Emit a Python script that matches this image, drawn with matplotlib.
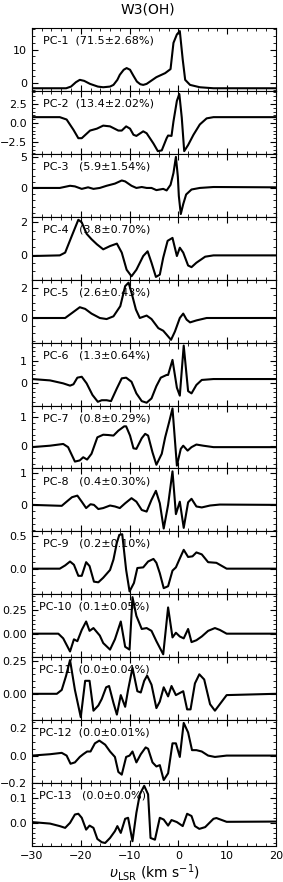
import matplotlib
matplotlib.use("Agg")
import matplotlib.pyplot as plt
from matplotlib.ticker import AutoMinorLocator, MultipleLocator

# Componentes principales de W3(OH)
Vel_1 = [-30, -23.0, -22.0, -21.0, -20.2, -19.3, -18.1, -16.5, -15.4, -14.0, -13.3, -12.5, -12.0, -11.2, -10.6,
         -9.9, -9.2, -8.5, -7.8, -7.2, -6.5, -5.8, -4.5, -2.7, -1.6, -1.0, -0.3, 0.3, 0.9, 1.4, 2.4, 4.4, 7.2, 20]
Amp_1 = [-1.5, -1.5, -1.0, 0.3, 1.0, 0.7, -0.2, -1.0, -1.2, -1.0, -0.5, 1.0, 2.5, 4.0, 4.5,
         4.0, 2.2, 0.5, -0.3, -0.5, -0.2, 0.5, 1.8, 3.0, 4.2, 12.0, 14.5, 15.5, 7.0, 1.0, -0.5, -1.2, -1.5, -1.5]

Vel_2 = [-30, -24.3, -22.9, -21.5, -20.5, -19.8, -18.1, -16.7, -15.4, -14.0, -12.3, -11.6, -10.7, -9.9, -9.2,
         -8.6, -7.2, -6.5, -5.1, -4.2, -3.4, -2.4, -2.1, -1.4, -1.0, -0.3, 0.2, 0.7, 1.2, 2.0, 3.1, 4.4, 5.8, 7.2, 20]
Amp_2 = [0.76, 0.76, 0.45, -0.9, -2.0, -2.0, -1.0, -0.75, -0.35, -0.45, -1.0, -1.0, -0.45, -0.75, -1.55,
         -1.7, -1.1, -1.35, -2.7, -3.7, -3.6, -2.0, -1.65, -1.7, 0.2, 2.9, 3.8, 0.7, -3.7, -2.9, -1.55, -0.2, 0.6, 0.76, 0.76]

Vel_3 = [-30, -24.3, -22.2, -21.2, -19.8, -18.5, -17.4, -16.1, -14.7, -13.0, -11.6, -10.9, -9.6, -8.6, -7.5,
         -6.5, -5.5, -4.5, -3.1, -2.4, -1.6, -1.0, -0.5, -0.1, 0.1, 0.5, 1.0, 1.6, 2.7, 4.4, 7.2, 20]
Amp_3 = [0.0, 0.0, 0.35, 0.25, -0.15, 0.1, -0.15, 0.0, 0.35, 0.7, 1.2, 1.05, 0.35, 0.0, 0.15,
         0.0, 0.0, -0.35, -0.15, -0.4, 0.5, 2.4, 5.0, 1.8, -1.3, -4.2, -2.6, -1.05, -0.25, 0.0, 0.15, 0.1]

Vel_4 = [-30, -24.3, -23.2, -21.8, -20.5, -19.8, -18.8, -17.8, -16.7, -15.4, -14.0, -12.6, -11.6, -10.6, -9.6,
         -8.6, -7.2, -6.3, -5.5, -4.6, -3.8, -3.1, -2.2, -1.2, -0.3, 0.3, 1.0, 2.0, 2.7, 3.7, 5.5, 7.2, 20]
Amp_4 = [-0.06, -0.02, 0.15, 1.2, 2.16, 2.0, 1.3, 0.97, 0.66, 0.35, 0.55, 0.7, 0.15, -0.9, -1.3,
         -0.9, -0.06, 0.23, -0.47, -1.34, -1.2, -0.16, 0.87, 1.05, -0.06, 0.45, 0.15, -0.64, -0.74, -0.47, -0.1, -0.02, -0.02]

Vel_5 = [-30, -23.2, -21.8, -20.2, -19.1, -17.8, -16.1, -14.7, -13.3, -11.9, -10.9, -10.2, -9.6, -8.7, -7.9,
         -6.5, -5.5, -4.1, -3.1, -2.4, -1.5, -0.7, 0.3, 1.0, 1.7, 2.4, 3.7, 5.8, 20]
Amp_5 = [0.0, 0.0, 0.33, 0.71, 0.6, 0.29, 0.0, -0.07, 0.11, 0.78, 2.1, 2.33, 1.67, 0.56, 0.0,
         0.16, -0.07, -0.67, -0.84, -1.1, -1.44, -0.89, 0.0, 0.29, -0.11, -0.29, -0.16, 0.0, 0.0]

Vel_6 = [-30, -26.3, -23.6, -22.2, -21.5, -20.7, -19.8, -18.8, -17.6, -16.5, -15.7, -14.7, -13.8, -12.6, -11.6,
         -10.7, -9.6, -8.6, -7.5, -6.5, -5.5, -4.5, -3.6, -2.4, -2.1, -1.2, -0.3, 0.3, 1.1, 2.0, 2.7, 3.7, 4.8, 7.2, 20]
Amp_6 = [0.19, 0.13, 0.0, -0.1, -0.04, 0.25, 0.29, 0.0, -0.51, -0.81, -0.74, -0.74, -0.78, -0.22, 0.22,
         0.25, 0.07, -0.44, -0.78, -0.85, -0.66, -0.12, 0.25, 0.37, 0.37, 1.03, -0.19, -0.54, 1.66, -0.34, -0.44, -0.07, 0.15, 0.19, 0.19]

Vel_7 = [-30, -26.3, -23.6, -22.6, -21.2, -20.2, -19.5, -18.7, -17.8, -16.6, -15.4, -14.4, -13.3, -12.3, -11.1,
         -10.7, -9.9, -9.2, -8.6, -7.5, -6.8, -6.2, -5.3, -4.5, -3.4, -2.7, -1.9, -1.2, -0.3, 0.5, 1.0, 1.9, 2.7,
         3.7, 5.1, 7.2, 20]
Amp_7 = [-0.03, 0.02, 0.08, -0.03, -0.53, -0.49, -0.38, -0.46, -0.26, 0.31, 0.4, 0.39, 0.37, 0.54, 0.69,
         0.69, 0.37, -0.07, -0.09, 0.28, 0.43, 0.37, -0.21, -0.64, -0.26, 0.31, 0.83, 1.31, -0.67, -0.09, 0.02, -0.15, -0.03,
         0.06, 0.02, -0.03, -0.03]

Vel_8 = [-30, -23.9, -22.9, -21.8, -20.7, -19.8, -18.9, -18.0, -17.3, -16.4, -15.4, -14.0, -13.0, -12.0, -10.9,
         -9.6, -8.6, -7.5, -6.5, -5.5, -4.6, -3.8, -3.0, -2.1, -1.2, -0.5, 0.3, 1.1, 2.0, 2.7, 3.7, 4.8, 6.5, 8.5, 20]
Amp_8 = [0.0, -0.03, 0.1, 0.24, 0.29, 0.1, -0.1, 0.02, 0.0, -0.13, -0.1, -0.02, -0.05, -0.1, 0.05,
         0.21, 0.1, -0.16, -0.21, 0.16, 0.44, 0.05, -0.74, 0.0, 1.05, -0.29, 0.1, -0.72, 0.08, 0.19, -0.05, -0.08, -0.02, 0.01, 0.0]

Vel_9 = [-30, -24.3, -23.2, -22.2, -21.4, -20.5, -19.8, -18.9, -18.2, -17.3, -16.4, -15.4, -14.0, -13.3, -12.6,
         -12.1, -11.5, -10.7, -10.0, -9.1, -8.4, -7.2, -6.2, -5.1, -4.5, -3.8, -3.0, -2.1, -1.2, -0.5, 0.2, 1.1,
         2.0, 2.9, 3.7, 4.8, 6.1, 7.8, 9.9, 20]
Amp_9 = [0.0, 0.0, 0.05, 0.11, 0.06, -0.11, -0.11, 0.1, 0.04, -0.2, -0.21, -0.14, -0.02, 0.14, 0.4,
         0.52, 0.53, -0.02, -0.35, -0.22, 0.01, 0.02, 0.11, 0.15, 0.09, -0.07, -0.3, -0.27, -0.03, 0.02, 0.14, 0.29,
         0.18, 0.19, 0.25, 0.22, 0.1, 0.09, 0.0, 0.0]

Vel_10 = [-30, -24.6, -23.6, -22.2, -21.4, -20.7, -19.8, -18.9, -18.2, -17.4, -16.1, -15.4, -14.0, -13.0, -11.8,
          -10.9, -10.0, -9.4, -8.6, -7.5, -6.5, -5.5, -4.5, -3.1, -2.1, -1.2, -0.5, 0.3, 1.1, 2.0, 2.7, 3.7, 4.8,
          6.1, 7.5, 8.5, 9.9, 20]
Amp_10 = [0.0, 0.0, -0.05, -0.19, -0.06, -0.08, 0.04, 0.13, 0.03, 0.06, -0.02, -0.1, -0.17, -0.06, 0.13,
          -0.14, -0.17, 0.39, 0.19, 0.05, 0.06, 0.03, -0.08, -0.22, 0.28, -0.04, 0.01, -0.03, -0.05, 0.05, -0.09, -0.07, -0.03,
          0.03, 0.06, 0.04, 0.0, 0.0]

Vel_11 = [-30, -24.9, -23.9, -23.0, -22.2, -21.2, -20.0, -19.1, -18.2, -17.4, -16.4, -15.7, -14.8, -14.2, -13.3,
          -12.6, -11.8, -10.9, -10.3, -9.4, -8.4, -7.7, -7.0, -6.4, -5.5, -4.5, -3.8, -3.0, -2.1, -1.4, -0.5, 1.0,
          1.8, 2.5, 3.4, 4.3, 5.3, 6.5, 7.5, 8.9, 9.9, 20]
Amp_11 = [0.0, 0.0, 0.03, 0.14, 0.26, 0.03, -0.18, 0.1, 0.1, -0.13, -0.09, -0.04, 0.05, 0.06, -0.07,
          -0.16, -0.01, -0.1, 0.03, 0.2, 0.02, 0.01, 0.1, 0.14, 0.07, -0.11, -0.06, 0.05, -0.02, 0.06, -0.01, 0.02,
          -0.12, -0.12, 0.08, 0.15, 0.11, -0.08, -0.13, -0.06, -0.01, 0.0]

Vel_12 = [-30, -26.3, -23.9, -22.9, -22.1, -21.2, -20.2, -19.5, -18.7, -18.0, -17.1, -16.2, -15.0, -14.0, -13.0,
          -12.3, -11.6, -10.7, -10.0, -9.4, -8.6, -7.7, -6.7, -6.2, -5.3, -4.5, -3.8, -3.0, -2.1, -1.2, -0.5, 0.3,
          1.1, 2.0, 2.8, 3.7, 4.8, 6.1, 7.5, 9.9, 20]
Amp_12 = [0.0, 0.01, 0.02, 0.0, -0.06, -0.05, -0.01, 0.01, 0.03, 0.03, 0.09, 0.11, 0.08, 0.03, -0.01,
          -0.12, -0.14, -0.01, 0.0, 0.03, -0.05, 0.01, 0.06, 0.05, -0.05, -0.08, -0.07, -0.18, -0.13, 0.09, 0.09, -0.01,
          0.24, 0.17, 0.04, 0.04, 0.03, 0.0, -0.01, 0.0, 0.0]

Vel_13 = [-30, -26.3, -24.3, -23.2, -22.2, -21.2, -20.5, -19.8, -18.9, -18.2, -17.4, -16.6, -15.7, -15.0, -14.0,
          -13.0, -12.5, -11.8, -10.9, -10.3, -9.4, -8.6, -7.9, -7.0, -6.2, -5.7, -4.8, -3.8, -3.0, -2.1, -1.4, -0.3,
          0.9, 1.8, 2.7, 3.4, 4.3, 5.5, 7.2, 7.8, 9.9, 20]
Amp_13 = [0.003, -0.003, -0.013, -0.02, 0.0, 0.033, 0.036, 0.02, -0.027, -0.011, -0.02, -0.064, -0.077, -0.08, -0.06,
          -0.033, -0.013, -0.04, 0.016, 0.02, -0.073, 0.04, 0.113, 0.147, 0.113, -0.06, -0.067, 0.02, 0.013, -0.011, 0.011, 0.003,
          -0.013, 0.036, 0.027, -0.013, -0.024, -0.017, 0.016, 0.019, 0.004, 0.005]

Velocidades = [Vel_1, Vel_2, Vel_3, Vel_4, Vel_5, Vel_6, Vel_7, Vel_8, Vel_9, Vel_10, Vel_11, Vel_12, Vel_13]
Amplitudes = [Amp_1, Amp_2, Amp_3, Amp_4, Amp_5, Amp_6, Amp_7, Amp_8, Amp_9, Amp_10, Amp_11, Amp_12, Amp_13]

Etiquetas = ["PC-1  (71.5\u00b12.68%)", "PC-2  (13.4\u00b12.02%)", "PC-3   (5.9\u00b11.54%)",
             "PC-4   (3.8\u00b10.70%)", "PC-5   (2.6\u00b10.43%)", "PC-6   (1.3\u00b10.64%)",
             "PC-7   (0.8\u00b10.29%)", "PC-8   (0.4\u00b10.30%)", "PC-9   (0.2\u00b10.10%)",
             "PC-10  (0.1\u00b10.05%)", "PC-11  (0.0\u00b10.04%)", "PC-12  (0.0\u00b10.01%)",
             "PC-13   (0.0\u00b10.0%)"]

Ticks_y = [[0, 10], [-2.5, 0.0, 2.5], [0, 5], [0, 2], [0, 2], [0, 1], [0, 1], [0, 1],
           [0.0, 0.5], [0.0, 0.25], [0.0, 0.25], [-0.2, 0.0, 0.2], [0.0, 0.1]]

Titulo = "W3(OH)"

fig, axs = plt.subplots(13, 1, figsize=(2.83, 8.82), dpi=100, sharex=True)
fig.subplots_adjust(left=0.113, right=0.975, top=0.968, bottom=0.041, hspace=0)

for i, ax in enumerate(axs):
    ax.plot(Velocidades[i], Amplitudes[i], color="black", lw=1.5)
    ax.set_xlim(-30, 20)
    ax.set_yticks(Ticks_y[i])
    ax.yaxis.set_minor_locator(AutoMinorLocator())
    ax.xaxis.set_major_locator(MultipleLocator(10))
    ax.xaxis.set_minor_locator(MultipleLocator(2))
    ax.tick_params(which="both", direction="in", top=True, right=True, labelsize=8)
    ax.tick_params(which="major", length=4)
    ax.tick_params(which="minor", length=2)
    x0 = 0.03 if i >= 9 else 0.044
    ax.text(x0, 0.8, Etiquetas[i], transform=ax.transAxes, fontsize=8, va="center", ha="left")

axs[-1].set_xlabel(r"$\upsilon_{\rm LSR}$ (km s$^{-1}$)", fontsize=10, labelpad=1)
fig.text(0.524, 0.985, Titulo, ha="center", va="baseline", fontsize=10)

fig.savefig("out.png", dpi=100)
